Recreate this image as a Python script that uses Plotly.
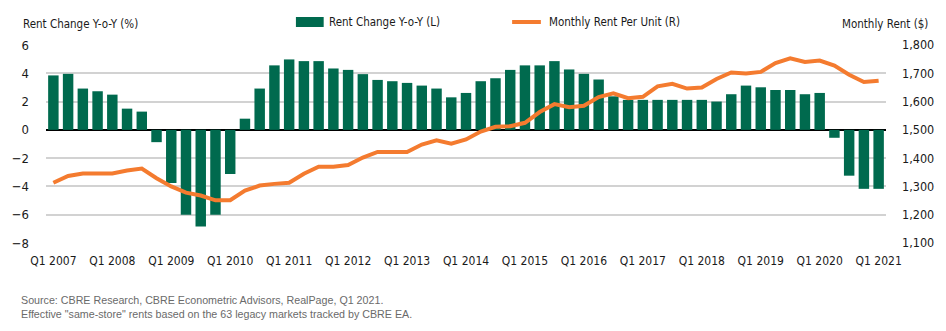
import plotly.graph_objects as go

years = list(range(2007, 2022))
quarters = [f"Q{q} {y}" for y in years for q in (1, 2, 3, 4)][:57]

rent_change = [3.85, 3.96, 2.92, 2.73, 2.49, 1.50, 1.29, -0.87, -3.76, -6.00,
               -6.84, -6.00, -3.12, 0.79, 2.92, 4.56, 4.98, 4.86, 4.86, 4.34,
               4.24, 3.94, 3.53, 3.44, 3.32, 3.13, 2.92, 2.30, 2.61, 3.44,
               3.65, 4.24, 4.56, 4.56, 4.86, 4.27, 3.96, 3.56, 2.37, 2.12,
               2.12, 2.12, 2.12, 2.12, 2.12, 2.00, 2.52, 3.13, 3.01, 2.82,
               2.82, 2.52, 2.61, -0.56, -3.24, -4.17, -4.17]

monthly_rent = [1313, 1337, 1346, 1346, 1346, 1356, 1363, 1329, 1300, 1278,
                1268, 1251, 1251, 1285, 1303, 1309, 1313, 1345, 1370, 1370,
                1376, 1402, 1422, 1422, 1422, 1448, 1463, 1451, 1466, 1494,
                1511, 1513, 1525, 1563, 1591, 1580, 1585, 1616, 1629, 1612,
                1617, 1654, 1663, 1646, 1650, 1680, 1703, 1699, 1705, 1736,
                1753, 1740, 1745, 1727, 1695, 1669, 1674]

left_ticks = [-8, -6, -4, -2, 0, 2, 4, 6]
right_ticks = [1100, 1200, 1300, 1400, 1500, 1600, 1700, 1800]
x_ticks = [f"Q1 {y}" for y in years]

GREEN = "#006a4e"
ORANGE = "#f47b2f"
FONT = "DejaVu Sans Condensed, Roboto, sans-serif"
TXT = "#1a1a1a"

W, H = 946, 331
L, R, T, B = 40, 887, 45, 243


def px(x):
    return (x - L) / (R - L)


def py(y):
    return (B - y) / (B - T)


fig = go.Figure()
fig.add_trace(go.Bar(x=quarters, y=rent_change, marker_color=GREEN,
                     marker_line_width=0, name="Rent Change Y-o-Y (L)",
                     showlegend=False))
fig.add_trace(go.Scatter(x=quarters, y=monthly_rent, mode="lines", yaxis="y2",
                         line=dict(color=ORANGE, width=4),
                         name="Monthly Rent Per Unit (R)", showlegend=False))

fig.update_layout(
    width=W, height=H,
    margin=dict(l=L, r=W - R, t=T, b=H - B, pad=0),
    paper_bgcolor="white", plot_bgcolor="white",
    bargap=0.29,
    font=dict(family=FONT, size=12.5, color=TXT),
    xaxis=dict(type="category", categoryorder="array", categoryarray=quarters,
               range=[-0.5, 56.5], tickvals=x_ticks, ticktext=x_ticks,
               showgrid=False, ticks="", ticklabelstandoff=9,
               tickfont=dict(family=FONT, size=12, color=TXT),
               zeroline=False, showline=False),
    yaxis=dict(range=[-8, 6], tickvals=left_ticks, showgrid=True,
               gridcolor="#d2d2d2", gridwidth=1.5, zeroline=True,
               zerolinecolor="#000000", zerolinewidth=1.5, ticks="",
               ticklabelstandoff=16, tickfont=dict(family=FONT, size=13, color=TXT)),
    yaxis2=dict(range=[1100, 1800], tickvals=right_ticks, overlaying="y",
                side="right", showgrid=False, zeroline=False, ticks="",
                tickformat=",", ticklabelstandoff=15,
                tickfont=dict(family=FONT, size=12.5, color=TXT)),
    showlegend=False,
)

annos = [
    dict(x=px(15), y=py(24), text="Rent Change Y-o-Y (%)", xanchor="left",
         font=dict(family=FONT, size=11.5, color=TXT)),
    dict(x=px(931), y=py(24), text="Monthly Rent ($)", xanchor="right",
         font=dict(family=FONT, size=11.5, color=TXT)),
    dict(x=px(323), y=py(22), text="Rent Change Y-o-Y (L)", xanchor="left",
         font=dict(family=FONT, size=11.5, color=TXT)),
    dict(x=px(545), y=py(22), text="Monthly Rent Per Unit (R)", xanchor="left",
         font=dict(family=FONT, size=11.5, color=TXT)),
    dict(x=px(13), y=py(322), text="Source: CBRE Research, CBRE Econometric Advisors, RealPage, Q1 2021.<br>"
         "Effective \"same-store\" rents based on the 63 legacy markets tracked by CBRE EA.",
         xanchor="left", yanchor="bottom", align="left",
         font=dict(family="Liberation Sans, Arial, sans-serif", size=10.7, color="#6a6a6a")),
]
for a in annos:
    a.setdefault("yanchor", "middle")
    fig.add_annotation(xref="paper", yref="paper", showarrow=False, **a)

fig.add_shape(type="rect", xref="paper", yref="paper", x0=px(292), x1=px(320),
              y0=py(27), y1=py(17), fillcolor=GREEN, line_width=0)
fig.add_shape(type="line", xref="paper", yref="paper", x0=px(510), x1=px(539),
              y0=py(22), y1=py(22), line=dict(color=ORANGE, width=4))

fig.write_html("out.html")
